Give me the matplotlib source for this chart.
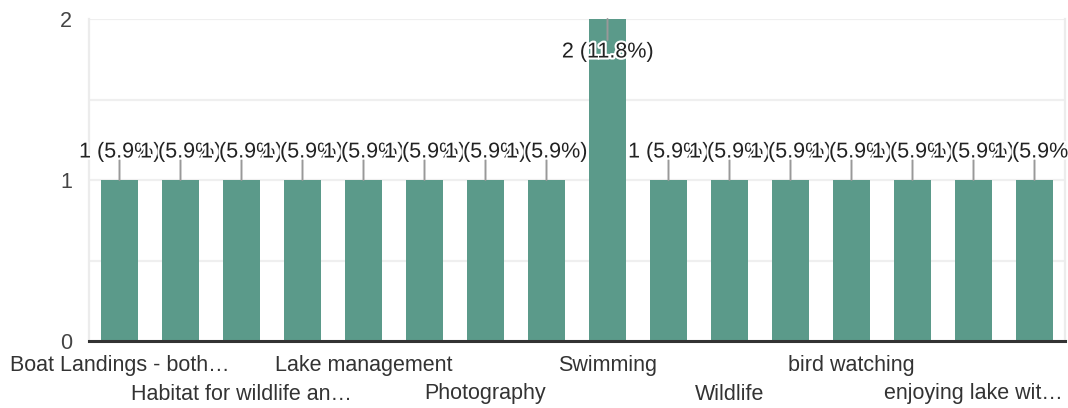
import matplotlib
matplotlib.use("Agg")
import matplotlib.pyplot as plt
import matplotlib.patheffects as pe
import numpy as np

# ---- data ----
categories = [
    "Boat Landings - both\u2026", "",
    "Habitat for wildlife an\u2026", "",
    "Lake management", "",
    "Photography", "",
    "Swimming", "",
    "Wildlife", "",
    "bird watching", "",
    "enjoying lake wit\u2026", "",
]
counts = [1, 1, 1, 1, 1, 1, 1, 1, 2, 1, 1, 1, 1, 1, 1, 1]
percents = [5.9, 5.9, 5.9, 5.9, 5.9, 5.9, 5.9, 5.9, 11.8, 5.9, 5.9, 5.9, 5.9, 5.9, 5.9, 5.9]
y_ticks = [0, 1, 2]

BAR_COLOR = "#5b9a8a"
plt.rcParams["font.family"] = ["Liberation Sans", "DejaVu Sans"]

W, H = 1068, 408
fig = plt.figure(figsize=(W / 100, H / 100), dpi=100)
left, right, top, bottom = 89, 1065, 19, 341
ax = fig.add_axes([left / W, (H - bottom) / H, (right - left) / W, (bottom - top) / H])

x = np.arange(len(categories))
ax.bar(x, counts, width=0.62, color=BAR_COLOR, zorder=2)
ax.set_xlim(-0.5, len(categories) - 0.5)
ax.set_ylim(0, max(y_ticks))

# grid
for g in np.arange(0, max(y_ticks) + 0.01, 0.5):
    ax.axhline(g, color="#efefef", lw=1.6, zorder=0)

ax.set_yticks(y_ticks)
ax.set_yticklabels([str(t) for t in y_ticks], fontsize=15.5, color="#444444")
ax.tick_params(axis="y", length=0, pad=12)
ax.tick_params(axis="x", length=0)
ax.set_xticks([])

for s in ["left", "right"]:
    ax.spines[s].set_color("#ececec")
    ax.spines[s].set_linewidth(1.6)
ax.spines["top"].set_visible(False)
ax.spines["bottom"].set_color("#333333")
ax.spines["bottom"].set_linewidth(2.2)
ax.spines["bottom"].set_zorder(3)

# category labels (alternating rows)
row = 0
for i, name in enumerate(categories):
    if i % 2 == 0:
        dy = -25 if row == 0 else -53
        ax.annotate(name, xy=(i, 0), xytext=(0, dy), textcoords="offset pixels",
                    ha="center", va="center", fontsize=15.5, color="#333333",
                    annotation_clip=False)
        row = 1 - row

# value labels with leader lines
ymax = max(y_ticks)
for i, (c, p) in enumerate(zip(counts, percents)):
    if c < ymax:
        line_off, text_off = 20, 28
    else:
        line_off, text_off = -21, -33
    ax.annotate("", xy=(i, c), xytext=(0, line_off), textcoords="offset pixels",
                arrowprops=dict(arrowstyle="-", color="#999999", lw=1.4,
                                shrinkA=0, shrinkB=0), zorder=4,
                annotation_clip=False)
    ax.annotate(f"{c} ({p}%)", xy=(i, c), xytext=(0, text_off),
                textcoords="offset pixels", ha="center", va="center",
                fontsize=15.5, color="#222222", zorder=5 + i,
                annotation_clip=False,
                path_effects=[pe.withStroke(linewidth=3, foreground="white")])

fig.savefig("out.png", dpi=100)
